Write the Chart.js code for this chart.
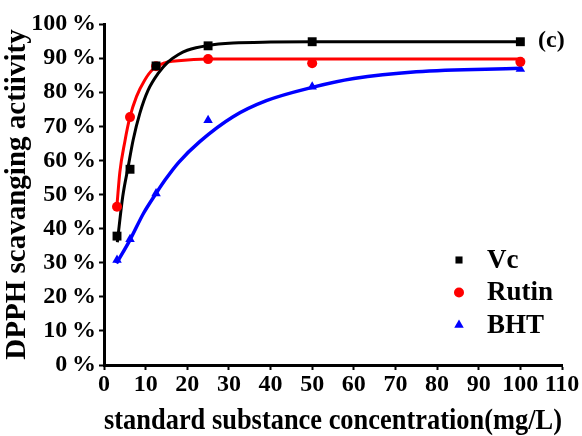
<!DOCTYPE html>
<html>
<head>
<meta charset="utf-8">
<script src="https://cdn.jsdelivr.net/npm/chart.js@4"></script>
<style>
  html, body { margin: 0; padding: 0; background: #fff; }
  #wrap { width: 582px; height: 436px; position: relative; }
</style>
</head>
<body>
<div id="wrap"><canvas id="c" width="582" height="436"></canvas></div>
<script>
// ---- data ----
const concentrations = [3.125, 6.25, 12.5, 25, 50, 100];
const vcValues    = [37.8, 57.4, 87.7, 93.6, 94.8, 94.8];
const rutinValues = [46.4, 72.7, 87.6, 89.7, 88.5, 88.9];
const bhtValues   = [30.8, 36.9, 50.3, 71.8, 81.6, 86.8];

// fitted trend curves
const vcCurveX    = [3.2, 4.5, 5.8, 7, 8.6, 10.6, 13, 15.4, 17.8, 20, 25, 31, 40, 50, 75, 100];
const vcCurveY    = [36, 49.4, 58.1, 66, 73.8, 80.6, 85.5, 88.9, 91.0, 92.3, 93.7, 94.4, 94.7, 94.8, 94.8, 94.8];
const rutinCurveX = [3.125, 3.8, 5.0, 6.2, 7.8, 9.8, 11.8, 14.6, 17.8, 25, 50, 100];
const rutinCurveY = [47, 56.5, 65.5, 72.6, 78.7, 83.6, 86.8, 88.6, 89.2, 89.7, 89.7, 89.7];
const bhtCurveX   = [3.0, 6.25, 9.5, 12.5, 14.7, 18, 23, 31, 39, 50, 60, 75, 100];
const bhtCurveY   = [29.8, 36.7, 44.5, 50.3, 54.3, 59.5, 65.5, 72.8, 77.5, 81.4, 84, 86, 87];

const seriesNames = ['Vc', 'Rutin', 'BHT'];
const xTickValues = [0, 10, 20, 30, 40, 50, 60, 70, 80, 90, 100, 110];
const yTickValues = [0, 10, 20, 30, 40, 50, 60, 70, 80, 90, 100];
const panelLabel = '(c)';
const xTitle = 'standard substance concentration(mg/L)';
const yTitle = 'DPPH scavanging actiivity';

// ---- styling ----
const FONT = '"Liberation Serif", "Times New Roman", serif';
const colors = ['#000000', '#ff0000', '#0000ff'];
const styles = ['rect', 'circle', 'triangle'];
const radii = [6.3, 5, 5.5];

const pts = (xs, ys) => xs.map((x, i) => ({ x: x, y: ys[i] }));

const datasets = [
  { label: seriesNames[0], data: pts(concentrations, vcValues), showLine: false,
    pointStyle: styles[0], pointRadius: radii[0], backgroundColor: colors[0], borderColor: colors[0], borderWidth: 0, order: 0 },
  { label: seriesNames[1], data: pts(concentrations, rutinValues), showLine: false,
    pointStyle: styles[1], pointRadius: radii[1], backgroundColor: colors[1], borderColor: colors[1], borderWidth: 0, order: 0 },
  { label: seriesNames[2], data: pts(concentrations, bhtValues), showLine: false,
    pointStyle: styles[2], pointRadius: radii[2], backgroundColor: colors[2], borderColor: colors[2], borderWidth: 0, order: 0 },
  { label: seriesNames[0] + ' fit', data: pts(vcCurveX, vcCurveY), showLine: true, pointRadius: 0,
    borderColor: colors[0], borderWidth: 3, cubicInterpolationMode: 'monotone', order: 1 },
  { label: seriesNames[1] + ' fit', data: pts(rutinCurveX, rutinCurveY), showLine: true, pointRadius: 0,
    borderColor: colors[1], borderWidth: 3, cubicInterpolationMode: 'monotone', order: 1 },
  { label: seriesNames[2] + ' fit', data: pts(bhtCurveX, bhtCurveY), showLine: true, pointRadius: 0,
    borderColor: colors[2], borderWidth: 3.5, cubicInterpolationMode: 'monotone', order: 1 }
];

const annotations = {
  id: 'annotations',
  afterDraw(chart) {
    const ctx = chart.ctx;
    const a = chart.chartArea;
    ctx.save();
    ctx.fillStyle = '#000';
    ctx.textAlign = 'left';
    ctx.textBaseline = 'middle';
    ctx.font = 'bold 24px ' + FONT;
    ctx.fillText(panelLabel, a.right - 24, a.top + 17);
    ctx.font = 'bold 27px ' + FONT;
    seriesNames.forEach((name, i) => {
      const y = a.top + 236 + i * 32.5;
      const x = a.left + 355;
      ctx.fillStyle = colors[i];
      ctx.strokeStyle = colors[i];
      const r = i === 0 ? 5 : (i === 1 ? 5 : 5.5);
      Chart.helpers.drawPoint(ctx, { pointStyle: styles[i], radius: r, rotation: 0, borderWidth: 0 }, x, y);
      ctx.fillStyle = '#000';
      ctx.fillText(name, x + 28, y + 1);
    });
    ctx.restore();
  }
};

new Chart(document.getElementById('c'), {
  type: 'scatter',
  data: { datasets },
  options: {
    responsive: false,
    animation: false,
    devicePixelRatio: 1,
    layout: { padding: { top: 24, right: 20, left: 0, bottom: 0 } },
    plugins: { legend: { display: false }, tooltip: { enabled: false } },
    scales: {
      x: {
        type: 'linear', min: 0, max: 110,
        afterBuildTicks: s => { s.ticks = xTickValues.map(v => ({ value: v })); },
        afterFit: s => { s.height = 71; },
        grid: { drawOnChartArea: false, drawTicks: true, tickLength: 5, tickWidth: 2, tickColor: '#000' },
        border: { display: true, color: '#000', width: 3 },
        ticks: { color: '#000', font: { family: FONT, size: 24, weight: 'bold' }, padding: 0, maxRotation: 0, autoSkip: false },
        title: { display: true, text: xTitle, color: '#000', font: { family: FONT, size: 29.5, weight: 'bold', lineHeight: 1.0 }, padding: { top: 0, bottom: 0 } }
      },
      y: {
        type: 'linear', min: 0, max: 100,
        afterBuildTicks: s => { s.ticks = yTickValues.map(v => ({ value: v })); },
        afterFit: s => { s.width = 104; },
        grid: { drawOnChartArea: false, drawTicks: true, tickLength: 5, tickWidth: 2, tickColor: '#000' },
        border: { display: true, color: '#000', width: 3 },
        ticks: { color: '#000', font: { family: FONT, size: 24, weight: 'bold' }, padding: 3, autoSkip: false,
                 callback: v => v + '\u2009%' },
        title: { display: true, text: yTitle, color: '#000', font: { family: FONT, size: 29, weight: 'bold', lineHeight: 1.0 }, padding: { top: 3, bottom: 0 } }
      }
    }
  },
  plugins: [annotations]
});
</script>
</body>
</html>
